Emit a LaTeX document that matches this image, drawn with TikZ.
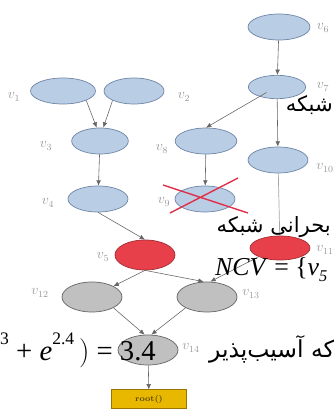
\documentclass[tikz,border=0pt]{standalone}
\usepackage{fontspec}
\usetikzlibrary{shapes.geometric,arrows.meta}
\newfontfamily\arabicfont[Script=Arabic]{DejaVu Sans}
\newfontfamily\tnr{Liberation Serif}
\TeXXeTstate=1
\definecolor{nodeblue}{HTML}{B9CDE5}
\definecolor{nodeline}{HTML}{6F86A6}
\definecolor{nodered}{HTML}{E8404A}
\definecolor{nodegray}{HTML}{C0C0C0}
\definecolor{rootfill}{HTML}{E8B800}
\definecolor{rootline}{HTML}{9A7400}
\definecolor{crossred}{HTML}{E0304A}
\tikzset{
  vnode/.style={ellipse,draw=nodeline,line width=0.6pt,fill=nodeblue,minimum width=1.8cm,minimum height=0.78cm,inner sep=0pt},
  rednode/.style={vnode,fill=nodered,draw=nodered!70!black},
  graynode/.style={vnode,fill=nodegray,draw=gray!80!black},
  vlabel/.style={font=\large,text=gray!80,inner sep=0pt},
  edge/.style={draw=gray!80!black,line width=0.5pt,-{Latex[length=1.6mm,width=1.4mm]}},
  fatext/.style={font=\arabicfont\fontsize{18}{22}\selectfont,inner sep=0pt},
}
\begin{document}
\begin{tikzpicture}[x=0.03cm,y=-0.03cm]
	\useasboundingbox (0,0) rectangle (334,414);
	\begin{scope}
	\clip (0,0) rectangle (334,414);
	% nodes
	\node[vnode,minimum width=1.86cm] (v6) at (279,27) {};
	\node[vnode,minimum width=1.72cm,minimum height=0.7cm] (v7) at (277,87) {};
	\node[vnode,minimum width=1.95cm] (v1) at (63,91) {};
	\node[vnode] (v2) at (134,91) {};
	\node[vnode,minimum width=1.7cm] (v3) at (100,141) {};
	\node[vnode,minimum width=1.85cm] (v8) at (206,141) {};
	\node[vnode] (v10) at (278,160) {};
	\node[vnode] (v4) at (98,199) {};
	\node[vnode] (v9) at (205,199) {};
	\node[rednode,minimum height=0.9cm] (v5) at (145,255) {};
	\node[rednode,minimum height=0.72cm] (v11) at (280,248) {};
	\node[graynode,minimum height=0.9cm] (v12) at (92,297) {};
	\node[graynode,minimum height=0.9cm] (v13) at (207,297) {};
	\node[graynode,minimum height=0.9cm] (v14) at (148,350) {};
	\node[rectangle,draw=rootline,line width=0.6pt,fill=rootfill,minimum width=2.25cm,minimum height=0.55cm,
		font=\scriptsize\bfseries,text=rootline!60!black] (root) at (149,399) {root()};
	% labels
	\node[vlabel] at (323,28) {$v_6$};
	\node[vlabel] at (323,87) {$v_7$};
	\node[vlabel] at (14,97) {$v_1$};
	\node[vlabel] at (184,97) {$v_2$};
	\node[vlabel] at (46,146) {$v_3$};
	\node[vlabel] at (162,149) {$v_8$};
	\node[vlabel] at (325,168) {$v_{10}$};
	\node[vlabel] at (48,203) {$v_4$};
	\node[vlabel] at (164,202) {$v_9$};
	\node[vlabel] at (103,257) {$v_5$};
	\node[vlabel] at (325,250) {$v_{11}$};
	\node[vlabel] at (40,293) {$v_{12}$};
	\node[vlabel] at (251,294) {$v_{13}$};
	\node[vlabel] at (191,348) {$v_{14}$};
	% edges
	\draw[edge] (v6) -- (v7);
	\draw[edge] (v7.south west) ++(10,-3) coordinate (a) (a) -- (v8.north);
	\draw[edge] (v7) -- (v10);
	\draw[edge] (v1.south east) -- ([xshift=-0.1cm]v3.north);
	\draw[edge] (v2.south west) -- ([xshift=0.1cm]v3.north);
	\draw[edge] (v3) -- (v4);
	\draw[edge] (v8) -- (v9);
	\draw[gray!70,line width=0.6pt] (v10) -- (v11);
	\draw[edge] (v4.south) -- (v5.north);
	\draw[edge] (v5.south) -- (v12.north east);
	\draw[edge] (v5.south) -- ([xshift=-0.1cm]v13.north);
	\draw[edge] (v11.south west) -- ([xshift=0.1cm]v13.north);
	\draw[edge] (v12.south east) -- ([xshift=-0.1cm]v14.north);
	\draw[edge] (v13.south west) -- ([xshift=0.1cm]v14.north);
	\draw[edge] (v14) -- (root);
	% cross over v9
	\draw[crossred,line width=1.2pt] (163,185) -- (248,213) (170,213) -- (238,178);
	% overlay texts
	\node[fatext,anchor=base east] (t1) at (333,111) {\beginR شبکه\endR};
	\node[fatext,anchor=base east] (t2) at (331,232) {\beginR بحرانی شبکه\endR};
	\node[anchor=base west,font=\tnr\fontsize{22}{26}\selectfont,inner sep=0pt] (t3) at (215,275) {\textit{NCV} = \{\textit{v}\raisebox{-0.25em}{\fontsize{14}{16}\selectfont\textit{5}}};
	\node[anchor=base west,font=\tnr\fontsize{24.5}{29}\selectfont,inner sep=0pt] (t4) at (0,360) {\raisebox{0.55em}{\fontsize{15}{18}\selectfont 3} + \textit{e}\raisebox{0.55em}{\fontsize{15}{18}\selectfont 2.4}\,$\Bigg)$ = 3.4};
	\node[fatext,anchor=base east,font=\arabicfont\fontsize{20}{24}\selectfont] (t5) at (335,357) {\beginR که آسیب‌پذیر\endR};
	\end{scope}
\end{tikzpicture}
\end{document}
